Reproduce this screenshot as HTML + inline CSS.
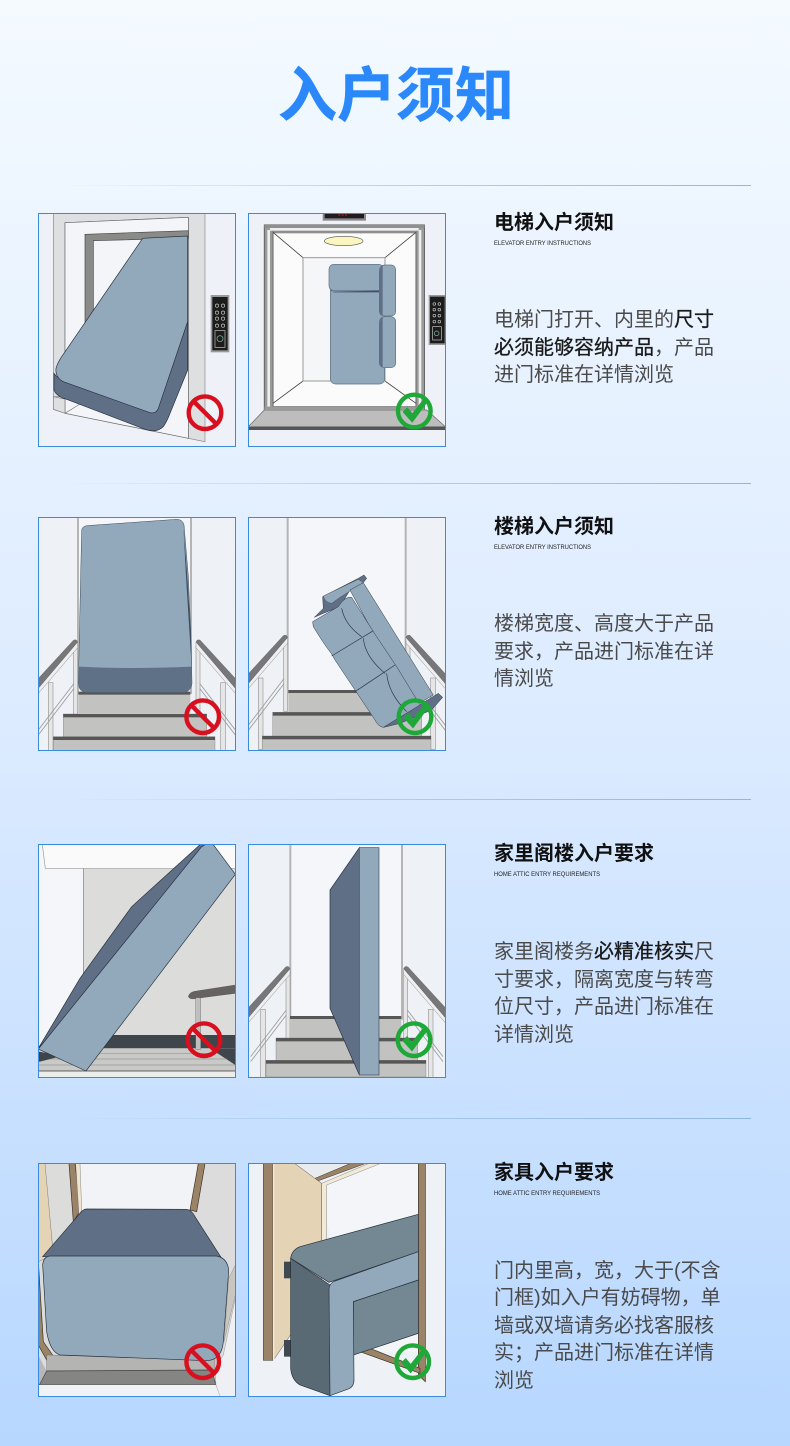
<!DOCTYPE html>
<html lang="zh"><head><meta charset="utf-8"><title>入户须知</title>
<style>
html,body{margin:0;padding:0;width:790px;height:1446px;overflow:hidden;background:#cfe4ff}
svg{display:block}
text{font-family:"Liberation Sans","Noto Sans CJK SC",sans-serif}
.h{font-size:20px;font-weight:700;fill:#111}
.s{font-size:6px;fill:#222}
.b{font-size:20px;fill:#4a4a4a}
.d{fill:#1a1a1a;stroke:#1a1a1a;stroke-width:.3}
</style></head><body>
<svg width="790" height="1446" viewBox="0 0 790 1446" xmlns="http://www.w3.org/2000/svg">
<defs>
<linearGradient id="bg" x1="0" y1="0" x2="0" y2="1"><stop offset="0" stop-color="#f4faff"/><stop offset=".5" stop-color="#dcebff"/><stop offset="1" stop-color="#b7d7ff"/></linearGradient>
<linearGradient id="ln" x1="0" y1="0" x2="1" y2="0"><stop offset="0" stop-color="#8fb6e2" stop-opacity="0"/><stop offset=".4" stop-color="#8fb6e2" stop-opacity=".5"/><stop offset="1" stop-color="#8fb6e2"/></linearGradient>
<g id="no"><circle r="16.3" fill="none" stroke="#d80f1e" stroke-width="4.4"/><line x1="-11.5" y1="-11.5" x2="11.5" y2="11.5" stroke="#d80f1e" stroke-width="4.4"/></g>
<g id="ok"><circle r="16.3" fill="none" stroke="#1ea838" stroke-width="4.4"/><path d="M-11,1 L-7,-3 L-2,3 L9,-11 L12,-8 L-2,11 Z" fill="#1ea838" stroke="#1ea838" stroke-width="1" stroke-linejoin="round"/></g>
<clipPath id="c1"><rect x="25" y="41" width="591" height="698"/></clipPath>
<clipPath id="c2"><rect x="655" y="41" width="591" height="698"/></clipPath>
<clipPath id="c3"><rect x="25" y="22" width="591" height="698"/></clipPath>
<clipPath id="c4"><rect x="655" y="22" width="591" height="698"/></clipPath>
<clipPath id="c5"><rect x="25" y="29" width="591" height="698"/></clipPath>
<clipPath id="c6"><rect x="655" y="29" width="591" height="698"/></clipPath>
<clipPath id="c7"><rect x="25" y="26" width="591" height="698"/></clipPath>
<clipPath id="c8"><rect x="655" y="26" width="591" height="698"/></clipPath>
<g id="railL"><rect x="30" y="510" width="14" height="215" fill="#e6e6e6" stroke="#999" stroke-width="2"/><rect x="106" y="400" width="12" height="210" fill="#e6e6e6" stroke="#999" stroke-width="2"/><path d="M0,652 L107,512 M0,667 L107,527" stroke="#9a9a9a" stroke-width="2.5"/><path d="M-30,562 L118,388 L118,405 L-30,577 Z" fill="#eeeff1" stroke="#888" stroke-width="1.5"/><path d="M-30,530 L105,383 Q114,378 118,388 L-30,562 Z" fill="#77777a" stroke="#555" stroke-width="1"/></g>
</defs>
<rect width="790" height="1446" fill="url(#bg)"/>
<text x="396" y="116" text-anchor="middle" font-size="59" font-weight="700" fill="#2a88fb" stroke="#2a88fb" stroke-width=".5" textLength="236" lengthAdjust="spacing">入户须知</text>
<rect x="60" y="185" width="691" height="1" fill="url(#ln)"/>
<rect x="60" y="483" width="691" height="1" fill="url(#ln)"/>
<rect x="60" y="799" width="691" height="1" fill="url(#ln)"/>
<rect x="60" y="1118" width="691" height="1" fill="url(#ln)"/>

<!-- ROW 1 -->
<g transform="translate(30,200) scale(.33333)">
<g clip-path="url(#c1)">
<rect x="25" y="41" width="591" height="698" fill="#eef2f8"/>
<path d="M70,41 L525,41 L525,725 L475,715 L475,52 L105,68 L105,590 L70,590 Z" fill="#dedfe0" stroke="#888" stroke-width="2"/>
<path d="M105,68 L475,52 L475,715 L105,640 Z" fill="#f3f5f8" stroke="#666" stroke-width="2"/>
<path d="M165,103 L475,92 L475,115 L190,122 L190,350 L165,380 Z" fill="#8a8a88" stroke="#444" stroke-width="2"/>
<path d="M70,590 L105,597 L105,640 L70,628 Z" fill="#dedfe0" stroke="#777" stroke-width="2"/>
<path d="M105,640 L150,612" stroke="#777" stroke-width="2"/>
<path d="M72,520 L72,570 Q80,590 110,598 L345,688 Q380,700 400,680 Q412,662 420,640 L473,510 L473,365 L380,630 L80,530 Z" fill="#5f7086" stroke="#26303c" stroke-width="2"/>
<path d="M338,115 L473,108 L473,365 L385,625 Q378,642 360,638 L100,545 Q75,532 78,505 Q82,490 95,470 Z" fill="#92a9bc" stroke="#26303c" stroke-width="2"/>
<rect x="542" y="285" width="56" height="172" fill="#9a9a9a"/><rect x="547" y="291" width="46" height="160" fill="#1c1c1c"/>
<g fill="none" stroke="#c8c8c8" stroke-width="2"><circle cx="561" cy="317" r="5"/><circle cx="579" cy="317" r="5"/><circle cx="561" cy="338" r="5"/><circle cx="579" cy="338" r="5"/><circle cx="561" cy="356" r="5"/><circle cx="579" cy="356" r="5"/><circle cx="561" cy="377" r="5"/><circle cx="579" cy="377" r="5"/><rect x="555" y="392" width="30" height="50"/><circle cx="570" cy="416" r="9" stroke="#8cc0a8"/></g>
</g></g>
<g transform="translate(30,200) scale(.33333)">
<g clip-path="url(#c2)">
<rect x="655" y="41" width="591" height="698" fill="#eef2f8"/>
<rect x="878" y="41" width="130" height="21" fill="#8a8a8a"/><rect x="884" y="41" width="118" height="14" fill="#221a1e"/><path d="M925,45 h30" stroke="#c22" stroke-width="3" stroke-dasharray="6 4"/>
<rect x="703" y="75" width="480" height="555" fill="#f5f6f8" stroke="#555" stroke-width="3"/>
<path d="M729,97 L1158,97 L1158,620 L729,620 Z" fill="#fbfbfb" stroke="#777" stroke-width="3"/>
<path d="M703,75 h26 v555 h-26 z M1158,75 h25 v555 h-25 z" fill="#9a9a9a" stroke="#555" stroke-width="2"/>
<path d="M712,90 h8 v530 h-8 z M1166,90 h8 v530 h-8 z" fill="#eee"/>
<rect x="703" y="75" width="480" height="9" fill="#8f8f8f"/>
<rect x="720" y="84" width="446" height="8" fill="#eee"/>
<rect x="729" y="92" width="429" height="8" fill="#8f8f8f"/>
<path d="M729,97 L819,173 M1158,97 L1065,173 M729,610 L819,543 M1158,610 L1065,543" stroke="#444" stroke-width="2.5" fill="none"/>
<rect x="819" y="173" width="246" height="370" fill="#f5f6f8" stroke="#999" stroke-width="3"/>
<path d="M1047,270 L1062,270 L1062,520 L1055,500 Q1047,496 1047,490 Z" fill="#5f7086"/>
<rect x="901" y="260" width="163" height="292" rx="16" fill="#92a9bc" stroke="#5c6e80" stroke-width="2"/>
<path d="M898,262 Q900,274 910,275 L1050,272 Q1060,270 1060,255 L1060,268 L1050,277 L910,277 Z" fill="#44536a"/>
<rect x="897" y="193" width="163" height="78" rx="14" fill="#92a9bc" stroke="#5c6e80" stroke-width="2"/>
<rect x="1050" y="195" width="47" height="153" rx="14" fill="#92a9bc" stroke="#5c6e80" stroke-width="2"/>
<path d="M1058,195 Q1047,200 1047,215 L1047,335 Q1049,346 1058,348 Z" fill="#5f7086"/>
<rect x="1050" y="350" width="47" height="153" rx="14" fill="#92a9bc" stroke="#5c6e80" stroke-width="2"/>
<path d="M1058,350 Q1047,355 1047,370 L1047,490 Q1049,500 1058,503 Z" fill="#5f7086"/>
<rect x="655" y="680" width="591" height="59" fill="#eef2f8"/>
<path d="M703,630 L1190,630 L1246,680 L655,680 Z" fill="#bdbdbd" stroke="#666" stroke-width="2"/>
<rect x="703" y="620" width="480" height="10" fill="#9a9a9a"/>
<rect x="655" y="681" width="591" height="9" fill="#555"/>
<ellipse cx="941" cy="123" rx="58" ry="14" fill="#fbf5bf" stroke="#555" stroke-width="2"/>
<rect x="1196" y="285" width="52" height="150" fill="#9a9a9a"/><rect x="1200" y="290" width="44" height="140" fill="#1c1c1c"/>
<g fill="none" stroke="#c8c8c8" stroke-width="2"><circle cx="1213" cy="312" r="4"/><circle cx="1228" cy="312" r="4"/><circle cx="1213" cy="329" r="4"/><circle cx="1228" cy="329" r="4"/><circle cx="1213" cy="347" r="4"/><circle cx="1228" cy="347" r="4"/><circle cx="1213" cy="365" r="4"/><circle cx="1228" cy="365" r="4"/><rect x="1208" y="380" width="26" height="40"/><circle cx="1220" cy="400" r="7" stroke="#8cc0a8"/></g>
</g></g>
<rect x="38.5" y="213.5" width="197" height="233" fill="none" stroke="#3a8be0"/>
<rect x="248.5" y="213.5" width="197" height="233" fill="none" stroke="#3a8be0"/>
<use href="#no" x="205" y="412.7"/><use href="#ok" x="414.3" y="411"/>

<text x="494" y="229" class="h">电梯入户须知</text>
<text x="494" y="245" class="s" textLength="97" lengthAdjust="spacingAndGlyphs">ELEVATOR ENTRY INSTRUCTIONS</text>
<text x="494" y="326" class="b">电梯门打开、内里的<tspan class="d">尺寸</tspan></text>
<text x="494" y="354" class="b"><tspan class="d">必须能够容纳产品</tspan>，产品</text>
<text x="494" y="381" class="b">进门标准在详情浏览</text>

<!-- ROW 2 -->
<g transform="translate(30,510) scale(.33333)">
<g clip-path="url(#c3)">
<rect x="25" y="22" width="591" height="698" fill="#eef2f7"/>
<rect x="145" y="22" width="337" height="530" fill="#f4f6f9"/>
<rect x="141" y="22" width="6" height="530" fill="#b5b5b5"/><rect x="480" y="22" width="6" height="530" fill="#b5b5b5"/>
<use href="#railL" x="25" y="8"/>
<use href="#railL" transform="translate(616,8) scale(-1,1)"/>
<rect x="145" y="545" width="336" height="65" fill="#c2c2c0"/><rect x="145" y="545" width="336" height="9" fill="#565656"/>
<rect x="100" y="612" width="430" height="68" fill="#c2c2c0" stroke="#666"/><rect x="100" y="612" width="430" height="10" fill="#565656"/>
<rect x="70" y="680" width="485" height="45" fill="#c2c2c0" stroke="#666"/><rect x="70" y="680" width="485" height="10" fill="#565656"/>
<path d="M155,62 Q155,50 170,47 L440,28 Q458,28 462,45 L475,200 L482,360 L486,520 Q484,545 460,547 L170,547 Q145,545 145,520 Z" fill="#92a9bc" stroke="#3a4a5a" stroke-width="1.5"/>
<path d="M460,45 L472,200 L482,360 L485,470 L478,360 L468,200 Z" fill="#3d4d60"/>
<path d="M145,470 Q300,478 485,470 L486,520 Q484,545 460,547 L170,547 Q145,545 145,520 Z" fill="#5f7186"/>
</g></g>
<g transform="translate(30,510) scale(.33333)">
<g clip-path="url(#c4)">
<rect x="655" y="22" width="591" height="698" fill="#eef2f7"/>
<rect x="773" y="22" width="354" height="530" fill="#f4f6f9"/>
<rect x="770" y="22" width="6" height="530" fill="#b5b5b5"/><rect x="1124" y="22" width="6" height="530" fill="#b5b5b5"/>
<use href="#railL" x="655" y="-6"/>
<use href="#railL" transform="translate(1246,-6) scale(-1,1)"/>
<rect x="775" y="540" width="350" height="70" fill="#c2c2c0"/><rect x="775" y="540" width="350" height="9" fill="#565656"/>
<rect x="728" y="607" width="447" height="72" fill="#c2c2c0" stroke="#666"/><rect x="728" y="607" width="447" height="10" fill="#565656"/>
<rect x="697" y="678" width="506" height="48" fill="#c2c2c0" stroke="#666"/><rect x="697" y="678" width="506" height="10" fill="#565656"/>
<path d="M1060,652 L1225,550 L1238,562 L1205,600 L1110,640 L1070,650 Z" fill="#5f7086" stroke="#2b3644" stroke-width="1.5"/>
<path d="M878,260 L985,205 L1002,195 L1010,205 L1000,218 L960,240 L930,290 L880,310 L853,322 L880,295 Z" fill="#5f7086" stroke="#2b3644" stroke-width="1.5"/>
<path d="M880,258 L985,208 L1000,218 L930,262 L905,280 Q885,278 880,258 Z" fill="#92a9bc" stroke="#2b3644" stroke-width="1"/>
<path d="M960,240 L1000,218 L1210,555 L1150,590 Z" fill="#92a9bc" stroke="#2b3644" stroke-width="1.5"/>
<path d="M848,335 L925,290 Q945,258 965,262 L1030,365 L1100,470 L1170,585 L1060,652 Q1045,650 1035,630 L975,540 L915,450 L905,432 Q880,400 850,350 Z" fill="#92a9bc" stroke="#2b3644" stroke-width="1.5"/>
<path d="M905,438 L1030,362 M975,545 L1095,465 M935,295 Q945,345 995,380 M1000,385 Q1005,440 1065,490 M1070,490 Q1075,550 1130,605" stroke="#2b3644" stroke-width="2" fill="none"/>
</g></g>
<rect x="38.5" y="517.5" width="197" height="233" fill="none" stroke="#3a8be0"/>
<rect x="248.5" y="517.5" width="197" height="233" fill="none" stroke="#3a8be0"/>
<use href="#no" x="202.7" y="716.7"/><use href="#ok" x="415" y="716.7"/>

<text x="494" y="533" class="h">楼梯入户须知</text>
<text x="494" y="549" class="s" textLength="97" lengthAdjust="spacingAndGlyphs">ELEVATOR ENTRY INSTRUCTIONS</text>
<text x="494" y="630" class="b">楼梯宽度、高度大于产品</text>
<text x="494" y="658" class="b">要求，产品进门标准在详</text>
<text x="494" y="685" class="b">情浏览</text>

<!-- ROW 3 -->
<g transform="translate(30,835) scale(.33333)">
<g clip-path="url(#c5)">
<rect x="25" y="29" width="591" height="698" fill="#f4f6f9"/>
<path d="M37,29 L46,100 L616,100 L616,29 Z" fill="#fafafa" stroke="#999" stroke-width="2"/>
<rect x="160" y="100" width="456" height="520" fill="#dcdcdb" stroke="#aaa" stroke-width="2"/>
<path d="M160,100 V450" stroke="#888" stroke-width="2"/>
<path d="M200,600 L616,600 L616,640 L200,640 Z" fill="#3e454b"/>
<rect x="25" y="640" width="591" height="70" fill="#c9c9c7"/>
<path d="M540,640 L616,690 L616,640 Z" fill="#3e454b"/>
<path d="M140,655 H560 M25,672 H590 M25,690 H616" stroke="#999" stroke-width="2"/>
<rect x="25" y="706" width="591" height="4" fill="#777"/>
<rect x="25" y="710" width="591" height="17" fill="#ececea"/>
<path d="M25,650 L100,662 L30,680 L25,680 Z" fill="#3e454b"/>
<path d="M475,485 Q478,470 500,468 L616,450 L616,475 L500,490 Q480,495 475,485 Z" fill="#66625f" stroke="#444"/>
<rect x="497" y="488" width="15" height="155" fill="#bfbfbf" stroke="#555"/>
<path d="M25,640 L150,430 L305,215 L510,29 L550,29 L420,200 Z" fill="#5f7086" stroke="#26303c" stroke-width="2"/>
<path d="M25,642 L515,35 L525,29 L550,29 L616,118 L168,708 Z" fill="#92a9bc" stroke="#26303c" stroke-width="2"/>
</g></g>
<g transform="translate(30,835) scale(.33333)">
<g clip-path="url(#c6)">
<rect x="655" y="29" width="591" height="698" fill="#eef2f7"/>
<rect x="780" y="29" width="335" height="525" fill="#f4f6f9"/>
<rect x="778" y="29" width="6" height="525" fill="#b5b5b5"/><rect x="1113" y="29" width="6" height="525" fill="#b5b5b5"/>
<use href="#railL" x="662" y="13"/>
<use href="#railL" transform="translate(1239,13) scale(-1,1)"/>
<rect x="780" y="543" width="334" height="70" fill="#c2c2c0"/><rect x="780" y="543" width="334" height="9" fill="#565656"/>
<rect x="738" y="609" width="425" height="70" fill="#c2c2c0" stroke="#666"/><rect x="738" y="609" width="425" height="10" fill="#565656"/>
<rect x="708" y="676" width="480" height="50" fill="#c2c2c0" stroke="#666"/><rect x="708" y="676" width="480" height="10" fill="#565656"/>
<path d="M988,38 L900,165 L900,520 L988,720 Z" fill="#5f7086" stroke="#26303c" stroke-width="2"/>
<rect x="988" y="38" width="59" height="682" fill="#92a9bc" stroke="#3a4a5a" stroke-width="2"/>
</g></g>
<rect x="38.5" y="844.5" width="197" height="233" fill="none" stroke="#3a8be0"/>
<rect x="248.5" y="844.5" width="197" height="233" fill="none" stroke="#3a8be0"/>
<use href="#no" x="204" y="1039.7"/><use href="#ok" x="414" y="1039.7"/>

<text x="494" y="860" class="h">家里阁楼入户要求</text>
<text x="494" y="876" class="s" textLength="106" lengthAdjust="spacingAndGlyphs">HOME ATTIC ENTRY REQUIREMENTS</text>
<text x="494" y="958" class="b">家里阁楼务<tspan class="d">必精准核实</tspan>尺</text>
<text x="494" y="986" class="b">寸要求，隔离宽度与转弯</text>
<text x="494" y="1013" class="b">位尺寸，产品进门标准在</text>
<text x="494" y="1041" class="b">详情浏览</text>

<!-- ROW 4 -->
<g transform="translate(30,1155) scale(.33333)">
<g clip-path="url(#c7)">
<rect x="25" y="26" width="591" height="698" fill="#dcdcdc"/>
<path d="M25,26 L48,26 L70,300 L25,320 Z" fill="#e4d3b5" stroke="#555"/>
<path d="M45,26 L120,26 L140,200 L70,300 Z" fill="#dcdcdb" stroke="#555"/>
<path d="M117,26 L135,26 L152,165 L130,200 Z" fill="#9b8367" stroke="#3a3026" stroke-width="2"/>
<rect x="150" y="26" width="350" height="140" fill="#f1f3f6"/>
<path d="M137,26 L150,26 L155,165 L147,180 Z" fill="#f0e6d0" stroke="#555"/>
<path d="M505,26 L525,26 L500,170 L480,165 Z" fill="#9b8367" stroke="#3a3026" stroke-width="2"/>
<path d="M25,320 L40,560 L78,615 L50,615 L25,570 Z" fill="#9b8367" stroke="#3a3026" stroke-width="2"/>
<path d="M25,600 L50,650 L28,690 L25,690 Z" fill="#b8b8b8"/>
<path d="M50,600 L555,610 L555,645 L50,648 Z" fill="#b4b4b2" stroke="#555"/>
<path d="M50,648 L545,645 L558,690 L28,690 Z" fill="#858583" stroke="#444" stroke-width="2"/>
<rect x="25" y="690" width="591" height="34" fill="#f0f2f6"/>
<path d="M616,340 L616,430 L580,600 L555,640 L558,690 L570,724 L616,724 Z" fill="#eef0f3" stroke="#777"/>
<path d="M616,330 L596,370 L582,560 L616,420 Z" fill="#c9c6bf" stroke="#777"/>
<path d="M170,162 L470,163 Q485,165 495,185 L575,310 L38,305 L150,175 Q160,162 170,162 Z" fill="#5f7086" stroke="#26303c" stroke-width="2"/>
<path d="M60,303 L560,303 Q595,310 596,350 L580,560 Q575,615 530,617 L90,600 Q60,590 50,530 L38,330 Q40,305 60,303 Z" fill="#92a9bc" stroke="#26303c" stroke-width="2"/>
</g></g>
<g transform="translate(30,1155) scale(.33333)">
<g clip-path="url(#c8)">
<rect x="655" y="26" width="591" height="698" fill="#eef2f7"/>
<path d="M790,26 L860,70 L1040,26 Z" fill="#e8ecef"/>
<path d="M855,70 L960,26 L1005,26 L858,80 Z" fill="#9b8367" stroke="#3a3026" stroke-width="1.5"/>
<path d="M875,90 L1050,26 L1165,26 L1165,590 L990,590 L890,200 Z" fill="#f3f5f8"/>
<path d="M875,85 L1015,26 L1050,26 L890,90 L890,300 L875,300 Z" fill="#f2ead8" stroke="#555"/>
<path d="M733,26 L795,26 L875,85 L875,400 L733,612 Z" fill="#e4d3b5" stroke="#555" stroke-width="1.5"/>
<rect x="700" y="26" width="29" height="590" fill="#9b8367" stroke="#3a3026" stroke-width="1.5"/>
<rect x="729" y="26" width="5" height="590" fill="#f2ead8"/>
<path d="M1165,26 L1186,26 L1186,680 L1165,660 Z" fill="#9b8367" stroke="#3a3026" stroke-width="2"/>
<path d="M990,590 L1170,655 L1170,640 L1020,580 Z" fill="#9b8367" stroke="#3a3026" stroke-width="2"/>
<rect x="762" y="320" width="20" height="50" fill="#3e4a50"/><rect x="762" y="555" width="20" height="50" fill="#3e4a50"/>
<path d="M782,310 L782,640 Q785,675 810,690 L900,722 L900,390 Z" fill="#5a6a74" stroke="#26303c" stroke-width="2"/>
<path d="M1165,178 L810,275 Q785,285 782,310 L897,382 L1165,290 Z" fill="#738893" stroke="#26303c" stroke-width="2"/>
<path d="M970,440 L1165,375 L1165,535 L970,600 Z" fill="#738893" stroke="#26303c" stroke-width="2"/>
<path d="M1165,290 L915,378 Q897,385 897,405 L900,722 L955,702 Q972,695 972,675 L970,440 L1165,375 Z" fill="#92a9bc" stroke="#26303c" stroke-width="2"/>
</g></g>
<rect x="38.5" y="1163.5" width="197" height="233" fill="none" stroke="#3a8be0"/>
<rect x="248.5" y="1163.5" width="197" height="233" fill="none" stroke="#3a8be0"/>
<use href="#no" x="202.7" y="1361.7"/><use href="#ok" x="412.7" y="1361.7"/>

<text x="494" y="1179" class="h">家具入户要求</text>
<text x="494" y="1195" class="s" textLength="106" lengthAdjust="spacingAndGlyphs">HOME ATTIC ENTRY REQUIREMENTS</text>
<text x="494" y="1277" class="b">门内里高，宽，大于(不含</text>
<text x="494" y="1304" class="b">门框)如入户有妨碍物，单</text>
<text x="494" y="1332" class="b">墙或双墙请务必找客服核</text>
<text x="494" y="1359" class="b">实；产品进门标准在详情</text>
<text x="494" y="1387" class="b">浏览</text>
</svg>
</body></html>
